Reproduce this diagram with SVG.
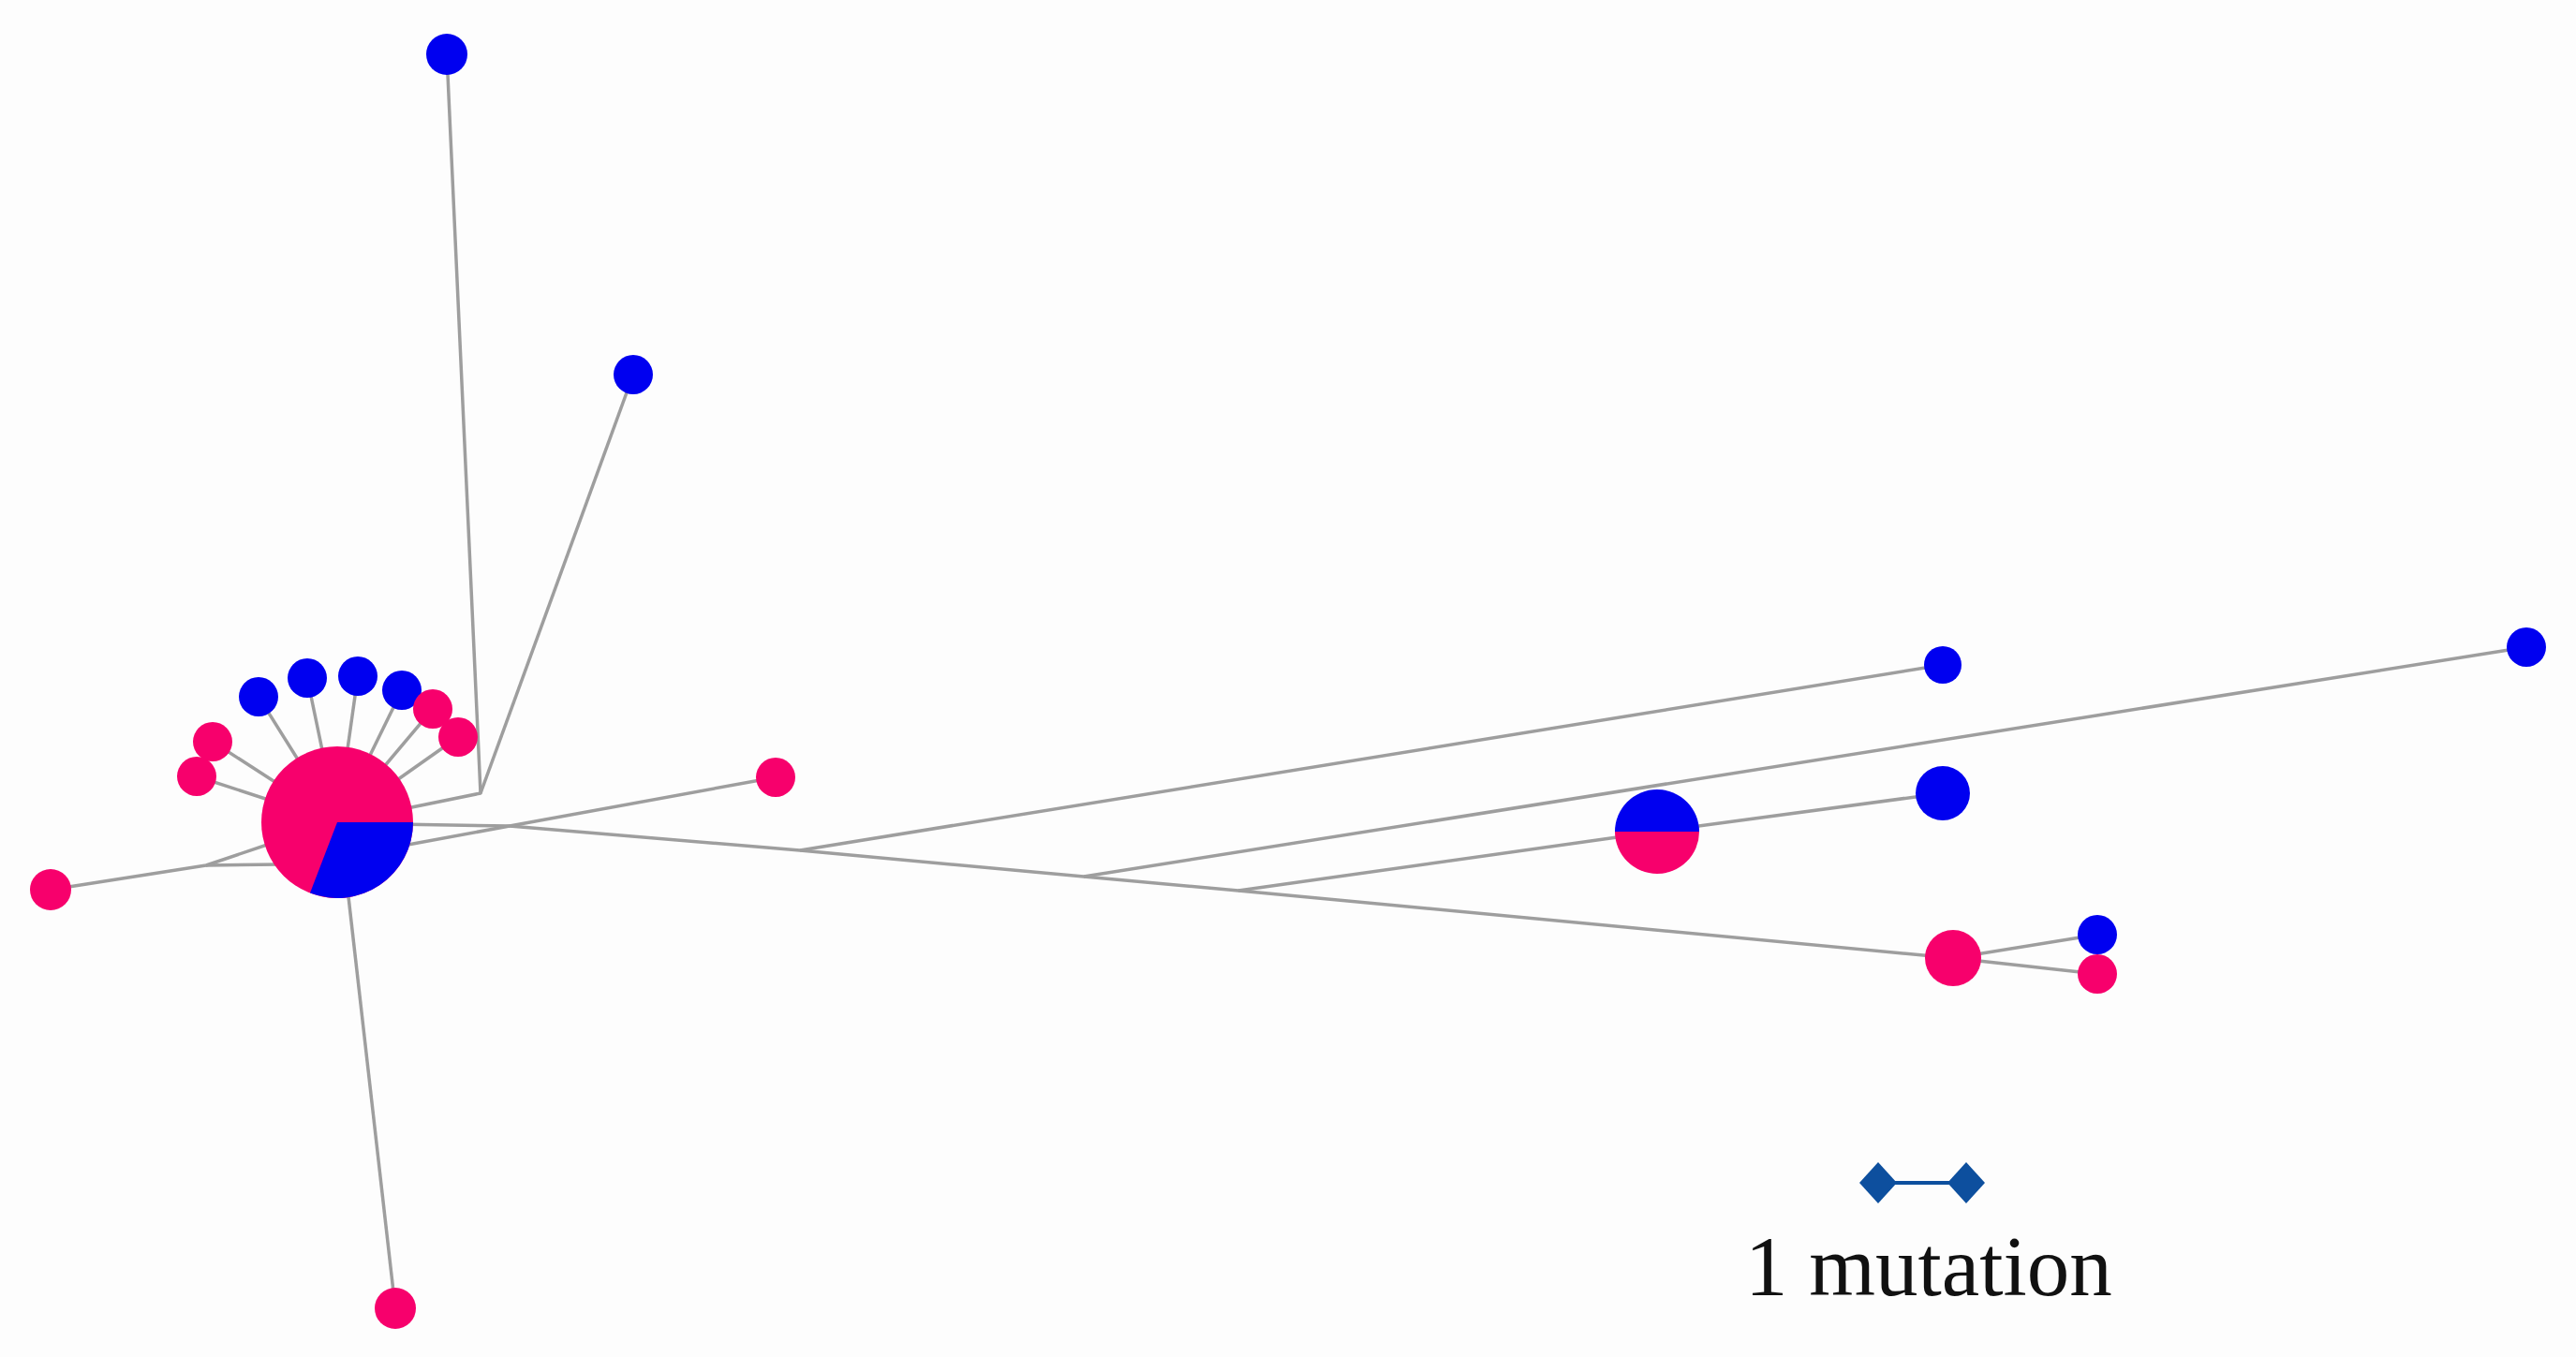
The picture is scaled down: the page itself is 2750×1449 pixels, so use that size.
<svg xmlns="http://www.w3.org/2000/svg" width="2750" height="1449" viewBox="0 0 2750 1449">
<style>
.e{stroke:#9e9e9e;stroke-width:3.5;fill:none;stroke-linejoin:round}
.p{fill:#f7006c}
.b{fill:#0000f0}
.lbl{font-family:"Liberation Serif","Times New Roman",serif;font-size:91px;fill:#111}
</style>
<defs>
<marker id="dia" viewBox="0 0 40 44" refX="20" refY="22" markerWidth="40" markerHeight="44" markerUnits="userSpaceOnUse"><path d="M0,22 L20,0 L40,22 L20,44 Z" fill="#0d4f9e"/></marker>
</defs>
<rect width="2750" height="1449" fill="#fdfdfd"/>
<g id="connectors">
<line class="e" x1="276" y1="744" x2="360" y2="878"/>
<line class="e" x1="328" y1="724" x2="360" y2="878"/>
<line class="e" x1="382" y1="722" x2="360" y2="878"/>
<line class="e" x1="429" y1="737" x2="360" y2="878"/>
<line class="e" x1="462" y1="757" x2="360" y2="878"/>
<line class="e" x1="489" y1="787" x2="360" y2="878"/>
<line class="e" x1="227" y1="792" x2="360" y2="878"/>
<line class="e" x1="210" y1="829" x2="360" y2="878"/>
<polyline class="e" points="54,950 220,924 300,897"/>
<polyline class="e" points="220,924 300,923"/>
<polyline class="e" points="477,58 513,847 420,866"/>
<line class="e" x1="676" y1="400" x2="513" y2="847"/>
<line class="e" x1="370" y1="940" x2="422" y2="1397"/>
<polyline class="e" points="828,830 544,882 430,903"/>
<polyline class="e" points="420,880 544,882 854,908 1157,936 1322,951 2085,1023"/>
<line class="e" x1="854" y1="908" x2="2074" y2="710"/>
<line class="e" x1="1157" y1="936" x2="2697" y2="691"/>
<line class="e" x1="1322" y1="951" x2="1769" y2="888"/>
<line class="e" x1="1769" y1="888" x2="2074" y2="847"/>
<line class="e" x1="2085" y1="1023" x2="2239" y2="998"/>
<line class="e" x1="2085" y1="1023" x2="2239" y2="1040"/>
</g>
<g id="n-main">
<circle class="p" cx="360" cy="878" r="81"/>
<path class="b" d="M360,878 L441,878 A81,81 0 0 1 331,953.6 Z"/>
</g>
<g id="n-b1"><circle class="b" cx="276" cy="744" r="21"/></g>
<g id="n-b2"><circle class="b" cx="328" cy="724" r="21"/></g>
<g id="n-b3"><circle class="b" cx="382" cy="722" r="21"/></g>
<g id="n-b4"><circle class="b" cx="429" cy="737" r="21"/></g>
<g id="n-p5"><circle class="p" cx="462" cy="757" r="21"/></g>
<g id="n-p6"><circle class="p" cx="489" cy="787" r="21"/></g>
<g id="n-p7"><circle class="p" cx="227" cy="792" r="21"/></g>
<g id="n-p8"><circle class="p" cx="210" cy="829" r="21"/></g>
<g id="n-pleft"><circle class="p" cx="54" cy="950" r="22"/></g>
<g id="n-pright"><circle class="p" cx="828" cy="830" r="21"/></g>
<g id="n-btop"><circle class="b" cx="477" cy="58" r="22"/></g>
<g id="n-bmid"><circle class="b" cx="676" cy="400" r="21"/></g>
<g id="n-pbottom"><circle class="p" cx="422" cy="1397" r="22"/></g>
<g id="n-br1"><circle class="b" cx="2074" cy="710" r="20"/></g>
<g id="n-br2"><circle class="b" cx="2697" cy="691" r="21"/></g>
<g id="n-bicolor">
<path class="b" d="M1724,888 A45,45 0 0 1 1814,888 Z"/>
<path class="p" d="M1724,888 A45,45 0 0 0 1814,888 Z"/>
</g>
<g id="n-br3"><circle class="b" cx="2074" cy="847" r="29"/></g>
<g id="n-pr1"><circle class="p" cx="2085" cy="1023" r="30"/></g>
<g id="n-br4"><circle class="b" cx="2239" cy="998" r="21"/></g>
<g id="n-pr2"><circle class="p" cx="2239" cy="1040" r="21"/></g>
<g id="scale">
<line x1="2005" y1="1263" x2="2099" y2="1263" stroke="#0d4f9e" stroke-width="4" marker-start="url(#dia)" marker-end="url(#dia)"/>
<text class="lbl" x="1863" y="1383">1 mutation</text>
</g>
</svg>
